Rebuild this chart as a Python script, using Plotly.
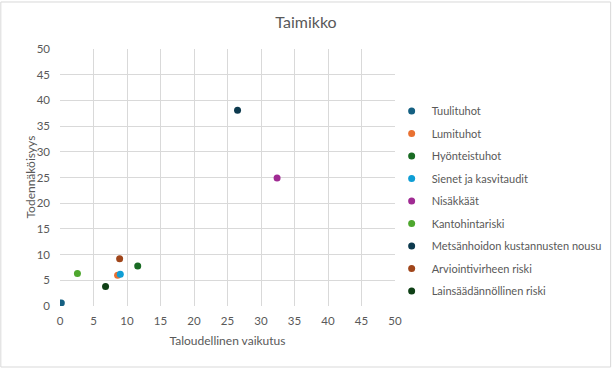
import plotly.graph_objects as go

names = ["Tuulituhot", "Lumituhot", "Hyönteistuhot", "Sienet ja kasvitaudit", "Nisäkkäät",
         "Kantohintariski", "Metsänhoidon kustannusten nousu", "Arviointivirheen riski",
         "Lainsäädännöllinen riski"]
x_vals = [0.2, 8.6, 11.6, 9.0, 32.4, 2.6, 26.5, 8.9, 6.8]
y_vals = [0.6, 6.0, 7.8, 6.2, 24.9, 6.3, 38.1, 9.2, 3.8]
colors = ["#156082", "#E97132", "#196B24", "#0F9ED5", "#A02B93", "#4EA72E",
          "#0D3A4E", "#A0461B", "#0F4016"]
ticks = list(range(0, 51, 5))
x_title = "Taloudellinen vaikutus"
y_title = "Todennäköisyys"

fig = go.Figure()
for i, n in enumerate(names):
    fig.add_trace(go.Scatter(x=[x_vals[i]], y=[y_vals[i]], mode="markers", name=n,
                             legendgroup=n,
                             marker=dict(color=colors[i], size=7)))

axis_common = dict(range=[0, 50], tickvals=ticks, showgrid=True, gridcolor="#D9D9D9",
                   gridwidth=1, zeroline=False, showline=False, automargin=True,
                   ticks="",
                   tickfont=dict(size=11.5, color="#595959"), fixedrange=True)
fig.update_layout(
    width=612, height=368,
    margin=dict(l=60, r=217, t=49, b=62, autoexpand=False),
    paper_bgcolor="white", plot_bgcolor="white",
    font=dict(family="Lato, Liberation Sans, sans-serif", color="#595959"),
    title=dict(text="Taimikko", x=0.5, xref="container", xanchor="center", y=0.94,
               yref="container", yanchor="middle", font=dict(size=16, color="#595959")),
    xaxis=dict(title=dict(text=x_title, font=dict(size=12, color="#595959"), standoff=11),
               ticklabelstandoff=6, **axis_common),
    yaxis=dict(ticklabelstandoff=9, **axis_common),
    legend=dict(x=0.99, y=0.815, xanchor="left", yanchor="top", font=dict(size=11, color="#595959"),
                tracegroupgap=3.5, itemwidth=30, bgcolor="rgba(0,0,0,0)"),
    shapes=[dict(type="rect", xref="paper", yref="paper", x0=-0.1766, x1=1.6437, y0=-0.2374, y1=1.1829,
                 line=dict(color="#D9D9D9", width=1), layer="below")],
    annotations=[dict(text=y_title, textangle=-90, xref="paper", yref="paper",
                      x=(30 - 60) / 335, y=0.5, xanchor="center", yanchor="middle",
                      showarrow=False, font=dict(size=12, color="#595959"))],
)
fig.write_html("out.html", config={"displayModeBar": False},
               post_script="document.body.style.margin='0px';document.body.style.overflow='hidden';")
